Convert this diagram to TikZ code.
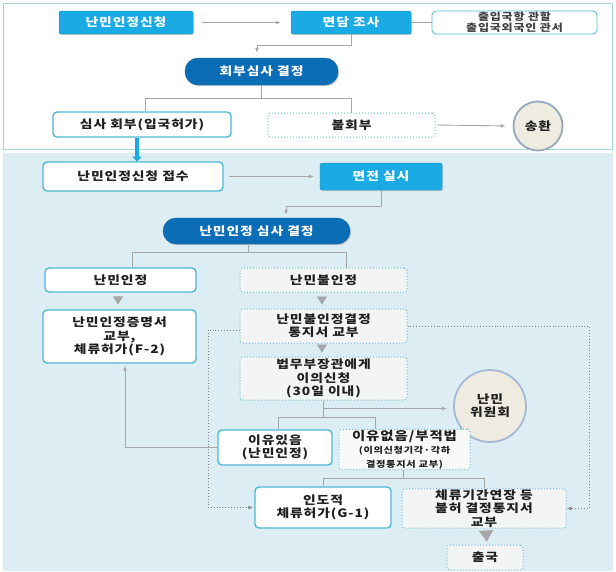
\documentclass[tikz,border=0pt]{standalone}
\usepackage{fontspec}
\setmainfont{Noto Sans CJK KR}[FakeStretch=1.2, LetterSpace=8]
\usepackage{tikz}
\usetikzlibrary{positioning,arrows.meta,calc,shadows}
\definecolor{mCyan}{HTML}{1AABE5}
\definecolor{mNavy}{HTML}{0B6DB6}
\definecolor{mTeal}{HTML}{4DB9D4}
\definecolor{mDotTeal}{HTML}{6CBFD0}
\definecolor{mLineGray}{HTML}{A6A6A6}
\definecolor{mPanel}{HTML}{DCEDF4}
\definecolor{mPanelLine}{HTML}{A3D5E2}
\definecolor{mBoxGray}{HTML}{F3F5F5}
\definecolor{mBeige}{HTML}{EEECE1}
\definecolor{mRing}{HTML}{A3B9D6}
\definecolor{mText}{HTML}{1F1F1F}
\newcommand{\kfont}{\bfseries\fontsize{11.5}{13.3}\selectfont}
\tikzset{
 shade/.style={drop shadow={shadow xshift=1.2pt, shadow yshift=-1.2pt, opacity=.3, fill=black!60}},
 cyanbox/.style={fill=mCyan, draw=mCyan!85!black, rounded corners=2pt, text=white, font=\kfont, shade},
 pill/.style={fill=mNavy, draw=mNavy!85!black, rounded corners=13pt, text=white, font=\kfont, shade},
 whitebox/.style={fill=white, draw=mTeal, line width=1.4pt, rounded corners=4pt, text=mText, font=\kfont, align=center},
 dotbox/.style={fill=mBoxGray, draw=mDotTeal, dotted, line width=1pt, rounded corners=3pt, text=mText, font=\kfont, align=center},
 ring/.style={circle, fill=mBeige, draw=mRing, line width=1.8pt, text=mText, font=\kfont, align=center, inner sep=0pt},
 conn/.style={draw=mLineGray, line width=0.9pt},
 arr/.style={conn, -{Latex[length=5pt,width=4pt]}},
 dotarr/.style={draw=mLineGray!80!black, dotted, line width=0.9pt, -{Latex[length=5pt,width=4pt]}},
 tri/.style={draw=mLineGray, fill=mLineGray, line width=0.1pt, -{Triangle[length=8pt,width=10pt]}},
 bluearr/.style={draw=mCyan, line width=3.5pt, -{Triangle[length=5pt,width=9pt]}}
}
% box at centre #3 with size #4 x #5
\newcommand{\bnode}[6]{%
 \node[#1, minimum width=#4, minimum height=#5, inner sep=1pt] (#2) at (#3) {#6};}

\begin{document}
\begin{tikzpicture}[x=1pt, y=-1pt]
\useasboundingbox (0,0) rectangle (616,571);
\draw[mPanelLine, fill=white, line width=1pt] (3,3) rectangle (612,149);
\fill[mPanel] (3,153) rectangle (613,571);

% upper panel
\bnode{cyanbox}{app}{126,22.5}{134pt}{23pt}{난민인정신청}
\bnode{cyanbox}{intv}{351,22.5}{120pt}{23pt}{면담 조사}
\bnode{whitebox, line width=0.8pt, font=\bfseries\fontsize{10}{11}\selectfont, text=black!75}{ofc}{514.5,22.5}{165pt}{23pt}{출입국항 관할\\출입국외국인 관서}
\bnode{pill}{dec1}{261.5,71.5}{153pt}{27pt}{회부심사 결정}
\bnode{whitebox}{refer}{142,124.5}{178pt}{25pt}{심사 회부(입국허가)}
\bnode{dotbox, fill=white}{noref}{351.5,125}{167pt}{24pt}{불회부}
\node[ring, draw=mRing!70!gray, minimum size=49pt] (ret) at (538,126) {송환};

\draw[arr, shorten <=9pt, shorten >=10pt] (app.east) -- (intv.west);
\draw[conn] (intv.east) -- (ofc.west);
\draw[arr, shorten >=5pt] (intv.south) -- ++(0,11) -| ([xshift=-4.5pt]dec1.north);
\draw[conn] (dec1.south) -- ++(0,13) coordinate (b1);
\draw[conn] ([xshift=3pt]refer.north) |- (b1) -| (noref.north);
\draw[arr, shorten <=1pt, shorten >=7pt] (noref.east) -- (ret.west);

% lower panel
\draw[bluearr] ([xshift=-5pt]refer.south) -- ++(0,24);
\bnode{whitebox}{recv}{133,176.5}{180pt}{29pt}{난민인정신청 접수}
\bnode{cyanbox}{itv2}{381,176.5}{122pt}{27pt}{면전 실시}
\bnode{pill}{dec2}{256.5,231}{187pt}{26pt}{난민인정 심사 결정}
\bnode{whitebox}{recog}{120.5,280}{151pt}{24pt}{난민인정}
\bnode{dotbox}{nrecog}{323.5,280}{167pt}{24pt}{난민불인정}
\bnode{whitebox}{cert}{119.5,336.5}{153pt}{53pt}{난민인정증명서\\교부,\\체류허가(F-2)}
\bnode{dotbox}{notice}{323.5,326}{167pt}{34pt}{난민불인정결정\\통지서 교부}
\bnode{dotbox}{appeal}{323.5,378.5}{167pt}{43pt}{법무부장관에게\\이의신청\\(30일 이내)}
\node[ring, minimum size=72pt] (comm) at (490,406) {난민\\위원회};
\bnode{whitebox}{grant}{275,447.5}{114pt}{35pt}{이유있음\\(난민인정)}
\bnode{dotbox, fill=mBoxGray!60!white}{dism}{404.5,449.5}{131pt}{39pt}{\fontsize{12}{12.5}\selectfont 이유없음/부적법\\\fontsize{8.5}{10}\selectfont(이의신청기각·각하\\\fontsize{8.5}{10}\selectfont 결정통지서 교부)}
\bnode{whitebox}{hum}{323,507.5}{136pt}{41pt}{인도적\\체류허가(G-1)}
\bnode{dotbox}{deny}{484,508.5}{164pt}{39pt}{체류기간연장 등\\불허 결정통지서\\교부}
\bnode{dotbox}{exit}{485,557.5}{76pt}{25pt}{출국}
\coordinate (lft) at (208,0);
\coordinate (rgt) at (589,0);

\draw[arr, shorten <=5pt, shorten >=6pt] (recv.east) -- (itv2.west);
\draw[arr, shorten >=3pt] (itv2.south) -- ++(0,16) -| ([xshift=29.5pt]dec2.north);
\draw[conn] ([xshift=-8.5pt]dec2.south) -- ++(0,8) coordinate (b2);
\draw[conn] ([xshift=11.5pt]recog.north) |- (b2) -| ([xshift=22.5pt]nrecog.north);
\draw[tri, shorten <=4pt, shorten >=5pt] ([xshift=-2.5pt]recog.south) -- ([xshift=-1.5pt]cert.north);
\draw[tri, shorten <=4pt, shorten >=4pt] ([xshift=-1.5pt]nrecog.south) -- ([xshift=-1.5pt]notice.north);
\draw[tri, shorten <=2pt, shorten >=4pt] ([xshift=-1.5pt]notice.south) -- ([xshift=-1.5pt]appeal.north);
\draw[dotarr] (notice.east) -- (notice.east -| rgt) |- (deny.east);
\draw[dotarr, shorten >=1pt] ([yshift=-4pt]notice.west) -- ([yshift=-4pt]notice.west -| lft) |- (hum.west);
\draw[arr, shorten >=6pt] ([yshift=-8pt]appeal.south) -- ([yshift=-8pt]appeal.south -| comm.west);
\draw[conn] (appeal.south) -- ++(0,17) coordinate (b3);
\draw[conn] ([xshift=3pt]grant.north) |- (b3) -| ([xshift=-29.5pt]dism.north);
\draw[arr, shorten >=2pt] (grant.west) -| ([xshift=5.5pt]cert.south);
\draw[conn] ([xshift=-1.5pt]dism.south) -- ++(0,8) coordinate (b4);
\draw[conn] (hum.north) |- (b4) -| (deny.north);
\draw[tri, -{Triangle[length=11pt,width=14pt]}, shorten <=2pt, shorten >=3pt] ([xshift=2pt]deny.south) -- ([xshift=2pt]exit.north);
\end{tikzpicture}
\end{document}
